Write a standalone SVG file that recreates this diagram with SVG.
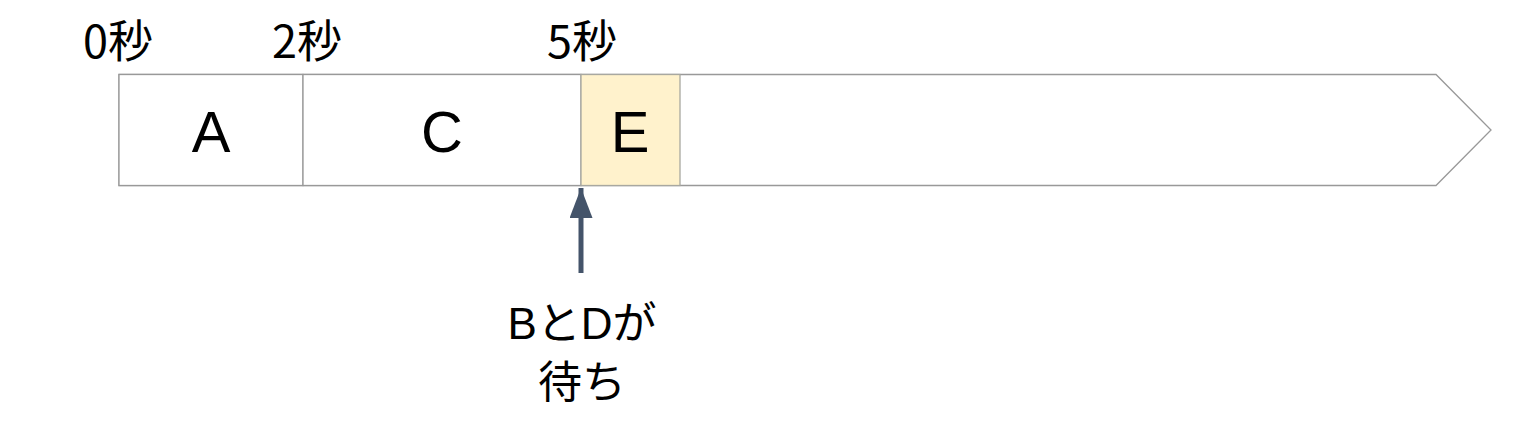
<svg xmlns="http://www.w3.org/2000/svg" width="1536" height="434" viewBox="0 0 1536 434">
<style>
.box{fill:#ffffff;stroke:#999999;stroke-width:1.3}
.sec{font-family:"Noto Sans CJK JP","Liberation Sans",sans-serif;font-size:45px;fill:#000;text-anchor:middle}
.lbl{font-family:"Liberation Sans","Noto Sans CJK JP",sans-serif;font-size:58px;fill:#000;text-anchor:middle}
.note{font-family:"Liberation Sans","Noto Sans CJK JP",sans-serif;font-size:44px;fill:#000;text-anchor:middle}
</style>
<defs>
<marker id="ah" viewBox="0 0 10 10" refX="10" refY="5" markerWidth="6" markerHeight="4.6" markerUnits="strokeWidth" orient="auto" preserveAspectRatio="none">
<path d="M0,0 L10,5 L0,10 z" fill="#44546A"/>
</marker>
</defs>
<g id="timeline">
<path class="box" d="M119,74.5 L1436,74.5 L1491,130 L1436,185.5 L119,185.5 Z"/>
</g>
<g id="nodeA">
<rect class="box" x="119" y="74.5" width="184" height="111"/>
<text class="lbl" x="211" y="152">A</text>
</g>
<g id="nodeC">
<rect class="box" x="303" y="74.5" width="278" height="111"/>
<text class="lbl" x="442" y="152">C</text>
</g>
<g id="nodeE">
<rect x="581" y="74.5" width="99" height="111" fill="#FFF2CC" stroke="#a8a8a0" stroke-width="1.3"/>
<text class="lbl" x="630" y="152">E</text>
</g>
<g id="ticks">
<text class="sec" x="118" y="58">0秒</text>
<text class="sec" x="307" y="58">2秒</text>
<text class="sec" x="582" y="58">5秒</text>
</g>
<g id="connectors">
<line x1="581" y1="273" x2="581" y2="188" stroke="#44546A" stroke-width="5" marker-end="url(#ah)"/>
</g>
<g id="note">
<text class="note" x="582" y="339">BとDが</text>
<text class="note" x="582" y="398">待ち</text>
</g>
</svg>
